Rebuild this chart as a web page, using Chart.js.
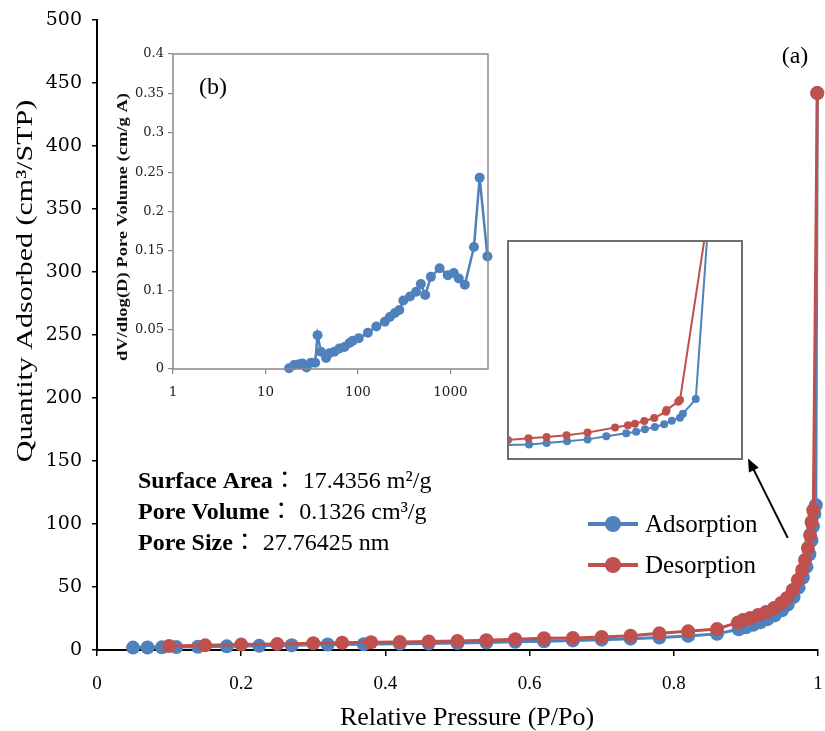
<!DOCTYPE html>
<html>
<head>
<meta charset="utf-8">
<title>N2 isotherm</title>
<script src="https://cdn.jsdelivr.net/npm/chart.js@4.4.0/dist/chart.umd.min.js"></script>
<style>
    html, body { margin: 0; padding: 0; background: #fff; }
    #wrap { position: relative; width: 825px; height: 731px; overflow: hidden; }
    #wrap canvas { position: absolute; }
    #char_main { left: 0; top: 0; }
    #char_psd { left: 100px; top: 30px; }
    #char_zoom { left: 500px; top: 235px; }
    #legend-container { position: absolute; left: 588px; top: 503px; }
    #legend-container li { display: flex; align-items: center; height: 41px; }
    .swatch { position: relative; width: 50px; height: 16px; margin-right: 7px; }
    .swatch .ln { position: absolute; left: 0; right: 0; top: 6px; height: 4px; }
    .swatch .dot { position: absolute; left: 17px; top: 0; width: 16px; height: 16px; border-radius: 50%; }
</style>
</head>
<body>
<div id="wrap">
    <canvas id="char_main" width="825" height="731"></canvas>
    <canvas id="char_psd" width="400" height="380"></canvas>
    <canvas id="char_zoom" width="250" height="230"></canvas>
    <div id="legend-container"></div>
</div>
<script>
// adsorption branch: relative pressure / quantity adsorbed (cm3/g STP)
const adsP = [0.05, 0.07, 0.09, 0.11, 0.14, 0.18, 0.225, 0.27, 0.32, 0.37, 0.42, 0.46, 0.50, 0.54,
    0.58, 0.62, 0.66, 0.70, 0.74, 0.78, 0.82, 0.86, 0.89, 0.90, 0.91, 0.92, 0.93, 0.94, 0.95,
    0.958, 0.966, 0.973, 0.979, 0.984, 0.988, 0.991, 0.993, 0.995, 0.997, 0.999];
const adsQ = [1.9, 2.0, 2.1, 2.3, 2.6, 2.9, 3.3, 3.8, 4.4, 4.6, 4.9, 5.2, 5.6, 6.0,
    6.5, 7.0, 7.6, 8.2, 9.0, 9.9, 11.2, 12.8, 16.5, 18, 20, 22, 24.5, 27.5, 31.5,
    36, 42, 49.5, 57.5, 66, 76, 87, 98, 108, 115, 442];

// desorption branch
const desP = [0.10, 0.15, 0.20, 0.25, 0.30, 0.34, 0.38, 0.42, 0.46, 0.50, 0.54, 0.58, 0.62,
    0.66, 0.70, 0.74, 0.78, 0.82, 0.86, 0.889, 0.896, 0.906, 0.917, 0.928, 0.939, 0.949,
    0.957, 0.965, 0.972, 0.978, 0.982, 0.986, 0.989, 0.991, 0.9935, 0.999];
const desQ = [3.2, 3.7, 4.3, 4.7, 5.3, 5.7, 6.1, 6.4, 6.8, 7.1, 7.7, 8.5, 9.3,
    9.6, 10.3, 11.4, 13.2, 14.8, 16.7, 21.9, 23.8, 25.4, 27.8, 30.2, 33.3, 37.3,
    41.3, 47.6, 55.6, 63.5, 71.4, 81, 91.3, 101.6, 111, 442];

// close-up of the hysteresis loop
const zoomAdsP = [0.58, 0.636, 0.666, 0.701, 0.736, 0.768, 0.802, 0.819, 0.834, 0.851, 0.867, 0.880, 0.894, 0.899, 0.921, 0.944];
const zoomAdsQ = [6.2, 6.7, 7.3, 8.1, 9.0, 10.4, 11.8, 12.5, 13.6, 14.7, 15.9, 17.6, 18.9, 20.8, 27.5, 115];
const zoomDesP = [0.600, 0.635, 0.666, 0.700, 0.736, 0.783, 0.805, 0.817, 0.833, 0.850, 0.870, 0.871, 0.891, 0.894, 0.941];
const zoomDesQ = [8.7, 9.5, 10.1, 10.9, 12.1, 14.4, 15.5, 16.2, 17.4, 18.8, 21.7, 22.5, 26.3, 27.1, 110];

// BJH pore size distribution
const poreD = [18.0, 20.4, 23.1, 25.1, 27.8, 31.0, 34.5, 36.6, 39.8, 45.2, 49.0, 55.6, 63.0, 71.6,
    81.0, 88.0, 102, 128, 158, 195, 221, 251, 280, 310, 366, 426, 479, 534, 615, 765,
    935, 1087, 1232, 1433, 1797, 2071, 2513];
const poreDV = [0.001, 0.005, 0.006, 0.007, 0.002, 0.008, 0.008, 0.043, 0.022, 0.014, 0.020, 0.022, 0.026, 0.028,
    0.033, 0.036, 0.039, 0.046, 0.054, 0.060, 0.066, 0.071, 0.075, 0.087, 0.092, 0.098, 0.108, 0.094, 0.117, 0.128,
    0.119, 0.122, 0.115, 0.107, 0.155, 0.243, 0.143];

// axis ticks
const pressureTicks = [0, 0.2, 0.4, 0.6, 0.8, 1];
const quantityTicks = [0, 50, 100, 150, 200, 250, 300, 350, 400, 450, 500];
const diameterTicks = [1, 10, 100, 1000];
const dvTicks = [0, 0.05, 0.1, 0.15, 0.2, 0.25, 0.3, 0.35, 0.4];

const notes = [
    ["Surface Area", " 17.4356 m²/g"],
    ["Pore Volume", " 0.1326 cm³/g"],
    ["Pore Size", " 27.76425 nm"],
];
const arrowFrom = [0.958, 89];
const arrowTo = [0.903, 152];

const BLUE = "#4F81BD";
const RED = "#C0504D";
const SERIF = "'Liberation Serif', 'Times New Roman', serif";
const WIDE = "'DejaVu Serif', serif";

Chart.defaults.font.family = SERIF;
Chart.defaults.color = "#000";

const toPoints = (xs, ys) => xs.map((v, i) => ({ x: v, y: ys[i] }));
const setTicks = (list) => (scale) => {
    scale.ticks = list.map((v) => ({ value: v }));
};

function drawText(ctx, text, x, y, font, angle, sx, sy) {
    ctx.save();
    ctx.translate(x, y);
    ctx.rotate(angle);
    ctx.scale(sx, sy);
    ctx.font = font;
    ctx.textAlign = "center";
    ctx.textBaseline = "middle";
    ctx.fillText(text, 0, 0);
    ctx.restore();
}

const framePlugin = {
    id: "frame",
    afterDraw(chart, args, opts) {
        const { left, top, width, height } = chart.chartArea;
        const ctx = chart.ctx;
        ctx.save();
        ctx.strokeStyle = opts.color;
        ctx.lineWidth = opts.width;
        ctx.strokeRect(left, top, width, height);
        ctx.restore();
    },
};

const getOrCreateLegendList = (id) => {
    const legendContainer = document.getElementById(id);
    let listContainer = legendContainer.querySelector("ul");
    if (!listContainer) {
        listContainer = document.createElement("ul");
        listContainer.style.margin = 0;
        listContainer.style.padding = 0;
        listContainer.style.listStyle = "none";
        legendContainer.appendChild(listContainer);
    }
    return listContainer;
};

const htmlLegendPlugin = {
    id: "htmlLegend",
    afterUpdate(chart, args, options) {
        const ul = getOrCreateLegendList(options.containerID);
        while (ul.firstChild) {
            ul.firstChild.remove();
        }
        const items = chart.options.plugins.legend.labels
            .generateLabels(chart)
            .sort((a, b) => a.datasetIndex - b.datasetIndex);

        items.forEach((item) => {
            const li = document.createElement("li");

            const swatch = document.createElement("span");
            swatch.className = "swatch";
            const ln = document.createElement("span");
            ln.className = "ln";
            ln.style.background = item.strokeStyle;
            const dot = document.createElement("span");
            dot.className = "dot";
            dot.style.background = item.fillStyle;
            swatch.appendChild(ln);
            swatch.appendChild(dot);

            const textContainer = document.createElement("p");
            textContainer.style.margin = 0;
            textContainer.style.padding = 0;
            textContainer.style.font = "25px " + SERIF;
            textContainer.style.color = "#000";
            textContainer.appendChild(document.createTextNode(item.text));

            li.appendChild(swatch);
            li.appendChild(textContainer);
            ul.appendChild(li);
        });
    },
};

// titles, notes and arrow of the isotherm panel
const mainDecor = {
    id: "mainDecor",
    afterDraw(chart) {
        const ctx = chart.ctx;
        const xs = chart.scales.x;
        const ys = chart.scales.y;
        ctx.save();
        ctx.fillStyle = "#000";
        drawText(ctx, "Relative Pressure (P/Po)", 467, 718, "26px " + SERIF, 0, 1, 1);
        drawText(ctx, "Quantity Adsorbed (cm³/STP)", 26, 281, "30px " + SERIF, -Math.PI / 2, 1, 0.8);
        drawText(ctx, "(a)", 795, 57, "24px " + SERIF, 0, 1, 1);

        ctx.textAlign = "left";
        ctx.textBaseline = "alphabetic";
        notes.forEach((n, i) => {
            const y = 488 + i * 31;
            let x = 138;
            ctx.font = "bold 24px " + SERIF;
            ctx.fillText(n[0], x, y);
            x += ctx.measureText(n[0]).width;
            ctx.font = "24px 'Noto Sans CJK TC', 'Noto Sans CJK JP', sans-serif";
            ctx.fillText("：", x, y);
            x += ctx.measureText("：").width;
            ctx.font = "24px " + SERIF;
            ctx.fillText(n[1], x, y);
        });

        const x0 = xs.getPixelForValue(arrowFrom[0]);
        const y0 = ys.getPixelForValue(arrowFrom[1]);
        const x1 = xs.getPixelForValue(arrowTo[0]);
        const y1 = ys.getPixelForValue(arrowTo[1]);
        const a = Math.atan2(y1 - y0, x1 - x0);
        ctx.strokeStyle = "#000";
        ctx.lineWidth = 2;
        ctx.beginPath();
        ctx.moveTo(x0, y0);
        ctx.lineTo(x1 - 10 * Math.cos(a), y1 - 10 * Math.sin(a));
        ctx.stroke();
        ctx.beginPath();
        ctx.moveTo(x1, y1);
        ctx.lineTo(x1 - 13 * Math.cos(a) + 5.5 * Math.sin(a), y1 - 13 * Math.sin(a) - 5.5 * Math.cos(a));
        ctx.lineTo(x1 - 13 * Math.cos(a) - 5.5 * Math.sin(a), y1 - 13 * Math.sin(a) + 5.5 * Math.cos(a));
        ctx.closePath();
        ctx.fill();
        ctx.restore();
    },
};

const psdDecor = {
    id: "psdDecor",
    afterDraw(chart) {
        const ctx = chart.ctx;
        ctx.save();
        ctx.fillStyle = "#111";
        drawText(ctx, "dV/dlog(D) Pore Volume (cm/g A)", 23, 197, "bold 14.5px " + SERIF, -Math.PI / 2, 1.28, 1);
        ctx.fillStyle = "#000";
        drawText(ctx, "(b)", 113, 58, "24px " + SERIF, 0, 1, 1);
        ctx.restore();
    },
};

const mainCanvas = document.getElementById("char_main");
if (mainCanvas != null) {
    new Chart(mainCanvas.getContext("2d"), {
        type: "scatter",
        data: {
            datasets: [
                {
                    label: "Adsorption",
                    data: toPoints(adsP, adsQ),
                    showLine: true,
                    borderColor: BLUE,
                    backgroundColor: BLUE,
                    borderWidth: 3,
                    pointRadius: 7,
                    pointBorderWidth: 0,
                    clip: false,
                    order: 1,
                },
                {
                    label: "Desorption",
                    data: toPoints(desP, desQ),
                    showLine: true,
                    borderColor: RED,
                    backgroundColor: RED,
                    borderWidth: 3,
                    pointRadius: 7,
                    pointBorderWidth: 0,
                    clip: false,
                    order: 0,
                },
            ],
        },
        options: {
            responsive: false,
            animation: false,
            layout: { padding: { top: 20, right: 5, left: 0, bottom: 0 } },
            plugins: {
                legend: { display: false },
                tooltip: { enabled: false },
                htmlLegend: { containerID: "legend-container" },
            },
            scales: {
                x: {
                    min: 0,
                    max: 1,
                    afterBuildTicks: setTicks(pressureTicks),
                    afterFit: (s) => {
                        s.height = 81;
                        s.paddingLeft = 0;
                        s.paddingRight = 0;
                    },
                    border: { color: "#000", width: 2 },
                    grid: { drawOnChartArea: false, tickLength: 6, color: "#000", lineWidth: 1.5 },
                    ticks: {
                        padding: 17,
                        maxRotation: 0,
                        font: { family: SERIF, size: 19 },
                        callback: (v) => String(v),
                    },
                },
                y: {
                    min: 0,
                    max: 500,
                    afterBuildTicks: setTicks(quantityTicks),
                    afterFit: (s) => {
                        s.width = 97;
                        s.paddingTop = 0;
                        s.paddingBottom = 0;
                    },
                    border: { color: "#000", width: 2 },
                    grid: { drawOnChartArea: false, tickLength: 5, color: "#000", lineWidth: 1.5 },
                    ticks: {
                        padding: 10,
                        font: { family: WIDE, size: 19 },
                        callback: (v) => String(v),
                    },
                },
            },
        },
        plugins: [htmlLegendPlugin, mainDecor],
    });
}

const psdCanvas = document.getElementById("char_psd");
if (psdCanvas != null) {
    new Chart(psdCanvas.getContext("2d"), {
        type: "scatter",
        data: {
            datasets: [
                {
                    label: "BJH",
                    data: toPoints(poreD, poreDV),
                    showLine: true,
                    borderColor: BLUE,
                    backgroundColor: BLUE,
                    borderWidth: 2.5,
                    pointRadius: 5,
                    pointBorderWidth: 0,
                    clip: false,
                },
            ],
        },
        options: {
            responsive: false,
            animation: false,
            layout: { padding: { top: 24, right: 12, left: 0, bottom: 0 } },
            plugins: {
                legend: { display: false },
                tooltip: { enabled: false },
                frame: { color: "#8a8a8a", width: 1.5 },
            },
            scales: {
                x: {
                    type: "logarithmic",
                    min: 1,
                    max: 2550,
                    afterBuildTicks: setTicks(diameterTicks),
                    afterFit: (s) => {
                        s.height = 41;
                        s.paddingLeft = 0;
                        s.paddingRight = 0;
                    },
                    border: { display: false },
                    grid: { drawOnChartArea: false, tickLength: 5, color: "#8a8a8a", lineWidth: 1.2 },
                    ticks: {
                        padding: 10,
                        maxRotation: 0,
                        color: "#222",
                        font: { family: WIDE, size: 13.5 },
                        callback: (v) => String(v),
                    },
                },
                y: {
                    min: 0,
                    max: 0.4,
                    afterBuildTicks: setTicks(dvTicks),
                    afterFit: (s) => {
                        s.width = 73;
                        s.paddingTop = 0;
                        s.paddingBottom = 0;
                    },
                    border: { display: false },
                    grid: { drawOnChartArea: false, tickLength: 5, color: "#8a8a8a", lineWidth: 1.2 },
                    ticks: {
                        padding: 4,
                        color: "#222",
                        font: { family: WIDE, size: 13 },
                        callback: (v) => String(+v.toFixed(2)),
                    },
                },
            },
        },
        plugins: [framePlugin, psdDecor],
    });
}

const zoomCanvas = document.getElementById("char_zoom");
if (zoomCanvas != null) {
    new Chart(zoomCanvas.getContext("2d"), {
        type: "scatter",
        data: {
            datasets: [
                {
                    label: "Adsorption",
                    data: toPoints(zoomAdsP, zoomAdsQ),
                    showLine: true,
                    borderColor: BLUE,
                    backgroundColor: BLUE,
                    borderWidth: 2,
                    pointRadius: 4,
                    pointBorderWidth: 0,
                    order: 1,
                },
                {
                    label: "Desorption",
                    data: toPoints(zoomDesP, zoomDesQ),
                    showLine: true,
                    borderColor: RED,
                    backgroundColor: RED,
                    borderWidth: 2,
                    pointRadius: 4,
                    pointBorderWidth: 0,
                    order: 0,
                },
            ],
        },
        options: {
            responsive: false,
            animation: false,
            layout: { padding: { top: 6, right: 8, left: 8, bottom: 6 } },
            plugins: {
                legend: { display: false },
                tooltip: { enabled: false },
                frame: { color: "#6f6f6f", width: 2 },
            },
            scales: {
                x: { display: false, min: 0.6, max: 1.0 },
                y: { display: false, min: 0, max: 100 },
            },
        },
        plugins: [framePlugin],
    });
}
</script>
</body>
</html>
